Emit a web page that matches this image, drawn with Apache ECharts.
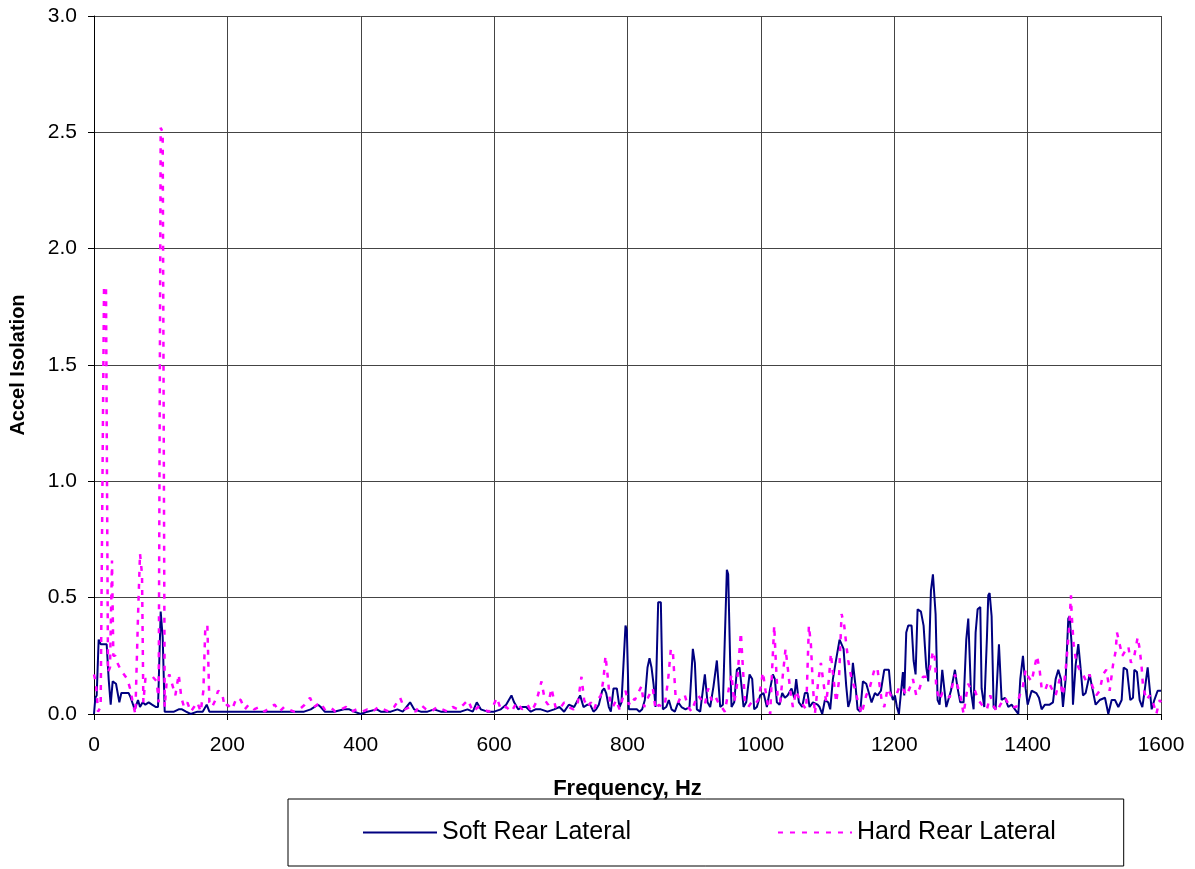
<!DOCTYPE html>
<html>
<head>
<meta charset="utf-8">
<script src="https://cdn.jsdelivr.net/npm/echarts@6/dist/echarts.min.js"></script>
<style>
html,body{margin:0;padding:0;background:#fff;}
#chart{width:1195px;height:869px;}
</style>
</head>
<body>
<div id="chart"></div>
<script>
const xTicks = [0,200,400,600,800,1000,1200,1400,1600];
const yTicks = ['0.0','0.5','1.0','1.5','2.0','2.5','3.0'];

const softHz = [0,2,4,7,10,14,19,22,25,28,33,38,41,46,52,55,61,66,69,73,77,82,87,93,96,100,103,106,112,120,127,132,138,145,155,163,169,173,180,190,200,214,225,240,255,270,285,300,315,325,336,340,346,360,375,383,390,400,410,424,430,445,455,463,474,480,490,500,510,520,535,550,560,568,574,580,590,600,610,618,626,630,636,642,648,655,662,670,680,690,698,705,712,720,729,734,740,744,749,753,757,762,765,768,772,775,779,784,788,791,797,799,802,808,814,818,822,826,830,833,836,839,842,846,850,853,858,862,866,871,876,881,887,893,898,901,904,909,916,920,924,929,934,936,939,943,949,951,954,956,960,964,968,971,974,978,983,987,990,994,999,1004,1009,1014,1018,1021,1024,1028,1032,1036,1040,1046,1050,1053,1057,1062,1066,1070,1073,1078,1085,1088,1092,1096,1101,1104,1108,1112,1118,1124,1128,1131,1134,1138,1142,1145,1149,1153,1158,1162,1166,1171,1175,1180,1185,1192,1195,1198,1201,1204,1207,1213,1215,1218,1221,1226,1229,1232,1235,1240,1244,1248,1251,1255,1258,1262,1265,1268,1272,1278,1285,1291,1295,1299,1304,1308,1311,1315,1319,1322,1325,1329,1331,1335,1339,1341,1343,1346,1349,1352,1357,1361,1366,1371,1376,1381,1386,1389,1393,1397,1400,1406,1413,1417,1421,1426,1433,1438,1442,1446,1450,1453,1457,1461,1463,1466,1468,1472,1476,1479,1483,1487,1493,1497,1502,1508,1516,1521,1526,1531,1536,1541,1544,1549,1554,1558,1560,1564,1568,1572,1575,1580,1583,1586,1590,1595,1600];
const softAcc = [0.00,0.07,0.08,0.32,0.30,0.30,0.30,0.15,0.04,0.14,0.13,0.05,0.09,0.09,0.09,0.07,0.02,0.06,0.03,0.05,0.04,0.05,0.04,0.03,0.03,0.44,0.33,0.01,0.01,0.01,0.02,0.02,0.01,0.00,0.01,0.01,0.04,0.01,0.01,0.01,0.01,0.01,0.01,0.01,0.01,0.01,0.01,0.01,0.01,0.02,0.04,0.03,0.01,0.01,0.02,0.02,0.01,0.00,0.01,0.02,0.01,0.01,0.02,0.01,0.05,0.02,0.01,0.01,0.02,0.01,0.01,0.01,0.02,0.01,0.05,0.02,0.01,0.01,0.02,0.04,0.08,0.05,0.02,0.03,0.03,0.01,0.02,0.02,0.01,0.02,0.03,0.01,0.04,0.03,0.08,0.03,0.04,0.04,0.01,0.02,0.04,0.10,0.11,0.09,0.03,0.01,0.11,0.11,0.03,0.05,0.38,0.36,0.02,0.02,0.02,0.01,0.02,0.06,0.20,0.24,0.20,0.13,0.03,0.48,0.48,0.02,0.03,0.06,0.02,0.01,0.05,0.03,0.02,0.03,0.28,0.22,0.02,0.01,0.17,0.05,0.03,0.12,0.23,0.15,0.03,0.04,0.62,0.60,0.22,0.03,0.05,0.19,0.20,0.12,0.03,0.05,0.17,0.15,0.02,0.03,0.08,0.09,0.03,0.11,0.17,0.15,0.05,0.04,0.09,0.07,0.08,0.11,0.07,0.15,0.05,0.03,0.09,0.09,0.03,0.05,0.04,0.03,0.00,0.06,0.05,0.02,0.15,0.22,0.32,0.28,0.12,0.03,0.06,0.22,0.12,0.02,0.01,0.14,0.13,0.09,0.05,0.09,0.08,0.10,0.19,0.19,0.09,0.06,0.08,0.03,0.00,0.18,0.08,0.35,0.38,0.38,0.23,0.17,0.45,0.44,0.38,0.20,0.14,0.53,0.60,0.43,0.06,0.04,0.19,0.03,0.10,0.19,0.11,0.05,0.05,0.32,0.41,0.10,0.02,0.35,0.45,0.46,0.11,0.03,0.33,0.51,0.52,0.42,0.03,0.02,0.30,0.06,0.07,0.03,0.04,0.02,0.00,0.15,0.25,0.11,0.04,0.10,0.09,0.07,0.02,0.04,0.04,0.05,0.15,0.19,0.15,0.03,0.15,0.41,0.42,0.30,0.04,0.21,0.30,0.21,0.08,0.09,0.17,0.11,0.04,0.06,0.07,0.00,0.06,0.06,0.03,0.06,0.20,0.19,0.06,0.07,0.19,0.18,0.06,0.03,0.09,0.20,0.11,0.02,0.06,0.10,0.10];

const hardHz = [0,3,6,10,15,18,21,24,27,29,32,35,40,45,50,55,58,62,66,69,72,74,77,82,88,94,97,100,103,106,109,113,118,122,127,131,135,140,145,150,155,160,164,167,170,173,177,182,186,192,196,200,207,214,220,226,232,240,248,256,264,271,278,285,292,300,308,316,324,330,339,346,354,362,370,378,386,394,402,410,418,426,434,442,450,459,466,474,482,490,498,506,514,522,530,538,546,554,561,568,576,584,592,598,604,610,618,626,634,642,650,656,663,671,676,681,686,692,698,705,712,719,725,731,735,740,745,750,755,760,764,767,770,774,778,783,788,793,797,802,806,811,816,821,825,829,834,838,842,847,852,856,861,865,868,872,876,881,886,891,896,901,906,911,916,921,926,931,936,941,946,952,956,960,964,967,970,973,976,981,986,991,996,1000,1003,1007,1011,1014,1017,1020,1022,1025,1029,1033,1037,1041,1044,1048,1053,1058,1063,1068,1072,1075,1078,1081,1086,1090,1094,1098,1102,1105,1109,1113,1117,1121,1125,1128,1131,1136,1141,1145,1151,1158,1163,1171,1175,1181,1185,1190,1195,1199,1203,1208,1213,1218,1223,1228,1233,1238,1243,1248,1253,1258,1261,1263,1268,1272,1278,1283,1291,1295,1299,1304,1308,1311,1316,1321,1326,1334,1339,1344,1348,1354,1359,1366,1372,1378,1383,1388,1393,1397,1401,1406,1411,1414,1418,1421,1426,1431,1436,1442,1448,1453,1458,1462,1465,1466,1469,1473,1478,1483,1488,1493,1497,1503,1508,1513,1518,1523,1528,1532,1534,1538,1542,1546,1551,1555,1560,1565,1568,1571,1573,1578,1583,1589,1593,1598,1600];
const hardAcc = [0.17,0.13,0.01,0.03,1.83,1.84,0.18,0.20,0.66,0.25,0.25,0.22,0.19,0.17,0.15,0.10,0.05,0.00,0.42,0.69,0.60,0.05,0.15,0.15,0.16,0.14,0.05,2.52,2.50,0.03,0.14,0.17,0.12,0.08,0.17,0.07,0.03,0.05,0.01,0.03,0.05,0.01,0.10,0.38,0.38,0.05,0.03,0.06,0.10,0.09,0.03,0.04,0.02,0.07,0.06,0.02,0.04,0.02,0.03,0.01,0.03,0.04,0.01,0.03,0.02,0.01,0.02,0.04,0.07,0.03,0.05,0.02,0.03,0.01,0.02,0.03,0.01,0.02,0.01,0.02,0.01,0.03,0.02,0.01,0.03,0.07,0.02,0.03,0.01,0.04,0.02,0.01,0.03,0.02,0.01,0.03,0.02,0.04,0.06,0.01,0.03,0.02,0.01,0.03,0.07,0.02,0.03,0.01,0.05,0.02,0.04,0.01,0.05,0.14,0.06,0.04,0.11,0.03,0.02,0.05,0.03,0.02,0.04,0.16,0.06,0.03,0.05,0.02,0.06,0.08,0.15,0.25,0.17,0.05,0.03,0.06,0.02,0.07,0.10,0.04,0.07,0.06,0.09,0.12,0.03,0.06,0.09,0.11,0.02,0.04,0.03,0.04,0.15,0.28,0.27,0.08,0.05,0.08,0.08,0.03,0.01,0.05,0.08,0.06,0.04,0.11,0.06,0.08,0.05,0.03,0.01,0.11,0.17,0.05,0.12,0.24,0.35,0.20,0.06,0.03,0.05,0.04,0.06,0.12,0.18,0.10,0.03,0.00,0.20,0.38,0.25,0.08,0.05,0.17,0.28,0.18,0.10,0.03,0.10,0.06,0.04,0.02,0.38,0.30,0.12,0.00,0.14,0.22,0.13,0.05,0.15,0.26,0.15,0.05,0.14,0.43,0.38,0.30,0.23,0.15,0.11,0.06,0.00,0.08,0.11,0.20,0.19,0.06,0.03,0.11,0.08,0.08,0.08,0.12,0.11,0.08,0.11,0.15,0.08,0.11,0.16,0.16,0.19,0.27,0.24,0.11,0.06,0.09,0.09,0.07,0.17,0.12,0.08,0.00,0.08,0.13,0.10,0.10,0.06,0.03,0.02,0.08,0.04,0.01,0.04,0.07,0.04,0.03,0.03,0.08,0.12,0.19,0.16,0.14,0.21,0.25,0.19,0.11,0.10,0.14,0.11,0.08,0.15,0.08,0.22,0.36,0.51,0.43,0.30,0.22,0.19,0.17,0.14,0.17,0.12,0.08,0.10,0.17,0.19,0.10,0.21,0.27,0.35,0.30,0.25,0.27,0.29,0.22,0.25,0.33,0.28,0.20,0.12,0.06,0.08,0.04,0.00,0.06,0.05];

const FONT = '"Liberation Sans", Arial, sans-serif';
const zip = (xs, ys) => xs.map((x, i) => [x, ys[i]]);

const chart = echarts.init(document.getElementById('chart'), null, {renderer: 'canvas'});
chart.setOption({
  animation: false,
  backgroundColor: '#ffffff',
  grid: {left: 94, top: 16, width: 1067, height: 698, containLabel: false},
  xAxis: {
    type: 'value', min: xTicks[0], max: xTicks[xTicks.length - 1], interval: 200,
    name: 'Frequency, Hz', nameLocation: 'middle', nameGap: 64,
    nameTextStyle: {fontFamily: FONT, fontSize: 22, fontWeight: 'bold', color: '#000'},
    axisLine: {show: true, onZero: false, lineStyle: {color: '#000', width: 1}},
    axisTick: {show: true, length: 6, inside: false, lineStyle: {color: '#000'}},
    axisLabel: {fontFamily: FONT, fontSize: 21, color: '#000', margin: 21,
      formatter: v => String(xTicks[Math.round(v / 200)])},
    splitLine: {show: true, lineStyle: {color: '#444', width: 1}}
  },
  yAxis: {
    type: 'value', min: 0, max: 3, interval: 0.5,
    name: 'Accel Isolation', nameLocation: 'middle', nameGap: 66, nameRotate: 90,
    nameTextStyle: {fontFamily: FONT, fontSize: 20, fontWeight: 'bold', color: '#000'},
    axisLine: {show: true, lineStyle: {color: '#000', width: 1}},
    axisTick: {show: true, length: 6, inside: false, lineStyle: {color: '#000'}},
    axisLabel: {fontFamily: FONT, fontSize: 21, color: '#000', margin: 17,
      formatter: v => yTicks[Math.round(v / 0.5)]},
    splitLine: {show: true, lineStyle: {color: '#444', width: 1}}
  },
  legend: {
    left: 288, top: 799,
    padding: [21, 68, 21, 74],
    itemGap: 146, itemWidth: 74, itemHeight: 14,
    borderColor: '#000', borderWidth: 1,
    itemStyle: {opacity: 0},
    textStyle: {fontFamily: FONT, fontSize: 25, color: '#000'},
    data: ['Soft Rear Lateral', 'Hard Rear Lateral']
  },
  series: [
    {
      name: 'Soft Rear Lateral', type: 'line', data: zip(softHz, softAcc),
      symbol: 'none', smooth: false,
      lineStyle: {color: '#000080', width: 2},
      itemStyle: {color: '#000080'}
    },
    {
      name: 'Hard Rear Lateral', type: 'line', data: zip(hardHz, hardAcc),
      symbol: 'none', smooth: false,
      lineStyle: {color: '#ff00ff', width: 2.5, type: [5, 7]},
      itemStyle: {color: '#ff00ff'}
    }
  ]
});
</script>
</body>
</html>
